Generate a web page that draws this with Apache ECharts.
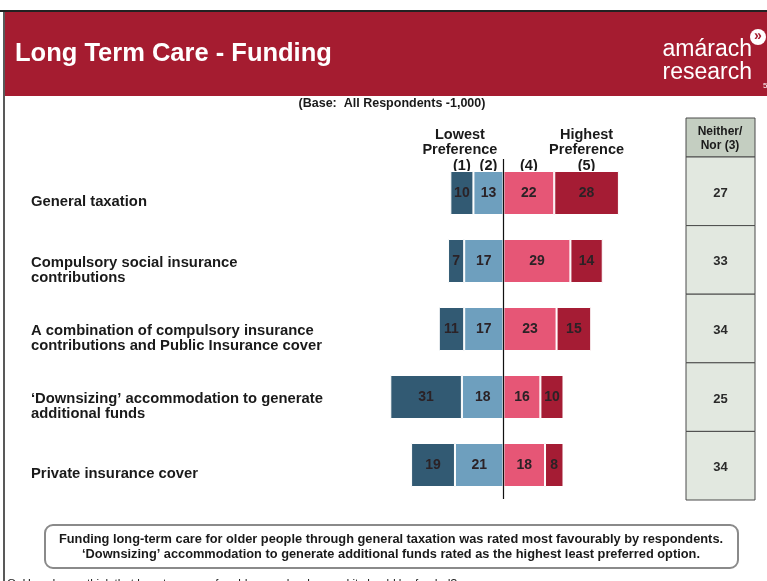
<!DOCTYPE html>
<html>
<head>
<meta charset="utf-8">
<script src="https://cdn.jsdelivr.net/npm/echarts@6/dist/echarts.min.js"></script>
<style>
  html, body { margin: 0; padding: 0; background: #fff; }
  #chart { width: 767px; height: 581px; }
</style>
</head>
<body>
<div id="chart"></div>
<script>
// rows, top to bottom
var categories = [
  'General taxation',
  'Compulsory social insurance\ncontributions',
  'A combination of compulsory insurance\ncontributions and Public Insurance cover',
  '\u2018Downsizing\u2019 accommodation to generate\nadditional funds',
  'Private insurance cover'
];
var lowest1 = [10, 7, 11, 31, 19];   // (1)
var low2 = [13, 17, 17, 18, 21];     // (2)
var neither3 = [27, 33, 34, 25, 34]; // (3)
var high4 = [22, 29, 23, 16, 18];    // (4)
var highest5 = [28, 14, 15, 10, 8];  // (5)
var scaleLabels = ['(1)', '(2)', '(4)', '(5)'];

var FONT = '"Liberation Sans", Arial, sans-serif';
var chart = echarts.init(document.getElementById('chart'));

var barLabel = {
  show: true,
  position: 'inside',
  color: '#2b2226',
  fontFamily: FONT,
  fontWeight: 'bold',
  fontSize: 14,
  formatter: function (p) { return Math.abs(p.value); }
};

function barSeries(name, data, color) {
  return {
    name: name,
    type: 'bar',
    stack: 'pref',
    barWidth: 44,
    data: data,
    itemStyle: { color: color, borderColor: '#ffffff', borderWidth: 1 },
    label: barLabel,
    emphasis: { disabled: true },
    xAxisIndex: 0,
    yAxisIndex: 0
  };
}

var option = {
  animation: false,
  grid: [
    { left: 388, top: 159, width: 254, height: 340 },
    { left: 686, top: 157, width: 69, height: 343 },
    // row labels sit a little lower than the bars
    { left: 388, top: 168, width: 254, height: 340 }
  ],
  xAxis: [
    { type: 'value', gridIndex: 0, min: -50, max: 60, show: false },
    { type: 'value', gridIndex: 1, min: 0, max: 1, show: false },
    { type: 'value', gridIndex: 2, min: 0, max: 1, show: false }
  ],
  yAxis: [
    { type: 'category', gridIndex: 0, data: categories, inverse: true, show: false },
    { type: 'category', gridIndex: 1, data: categories, inverse: true, show: false },
    {
      type: 'category', gridIndex: 2, data: categories, inverse: true,
      axisLine: { show: false }, axisTick: { show: false },
      axisLabel: {
        align: 'left', margin: 357,
        color: '#1a1a1a', fontFamily: FONT, fontWeight: 'bold', fontSize: 14.8,
        lineHeight: 15
      }
    }
  ],
  series: [
    barSeries('(2)', low2.map(function (v) { return -v; }), '#6e9fbe'),
    barSeries('(1)', lowest1.map(function (v) { return -v; }), '#325a73'),
    barSeries('(4)', high4, '#e65676'),
    barSeries('(5)', highest5, '#a51c34'),
    {
      type: 'line', data: [], xAxisIndex: 0, yAxisIndex: 0,
      markLine: {
        silent: true, symbol: 'none', label: { show: false },
        lineStyle: { color: '#111', width: 1.2, type: 'solid' },
        data: [{ xAxis: 0 }]
      }
    },
    {
      type: 'custom', xAxisIndex: 1, yAxisIndex: 1,
      data: neither3.map(function (v, i) { return [0, i, v]; }),
      encode: { x: 0, y: 1 },
      renderItem: function (params, api) {
        var p = api.coord([0, api.value(1)]);
        var h = api.size([0, 1])[1];
        var cs = params.coordSys;
        return {
          type: 'group',
          children: [
            { type: 'rect', shape: { x: cs.x, y: p[1] - h / 2, width: cs.width, height: h },
              style: { fill: '#e2e8e0', stroke: '#4a4a4a', lineWidth: 1 } },
            { type: 'text', style: { text: String(api.value(2)), x: cs.x + cs.width / 2, y: p[1] + 2,
              align: 'center', verticalAlign: 'middle', fill: '#2a2a2a',
              font: 'bold 13px ' + FONT } }
          ]
        };
      }
    }
  ]
};
chart.setOption(option);

// column headers sit over the segments of the first row
function segCenter(a, b) {
  return chart.convertToPixel({ gridIndex: 0 }, [(a + b) / 2, 0])[0];
}
var centers = [
  segCenter(-low2[0] - lowest1[0], -low2[0]),
  segCenter(-low2[0], 0),
  segCenter(0, high4[0]),
  segCenter(high4[0], high4[0] + highest5[0])
];
var hdrStyle = { fill: '#1a1a1a', font: 'bold 14.5px ' + FONT, align: 'center', verticalAlign: 'middle' };

var graphics = [
  { type: 'rect', shape: { x: 5, y: 12, width: 762, height: 84 }, style: { fill: '#a51c30' } },
  { type: 'line', shape: { x1: 0, y1: 11, x2: 767, y2: 11 }, style: { stroke: '#222', lineWidth: 2 } },
  { type: 'line', shape: { x1: 4, y1: 10, x2: 4, y2: 581 }, style: { stroke: '#222', lineWidth: 1.5 } },
  { type: 'text', style: { text: 'Long Term Care - Funding', x: 15, y: 54, verticalAlign: 'middle',
    fill: '#ffffff', font: 'bold 25.5px ' + FONT } },
  { type: 'text', style: { text: 'am\u00e1rach', x: 752, y: 50, align: 'right', verticalAlign: 'middle',
    fill: '#ffffff', font: '23px ' + FONT } },
  { type: 'text', style: { text: 'research', x: 752, y: 73, align: 'right', verticalAlign: 'middle',
    fill: '#ffffff', font: '23px ' + FONT } },
  { type: 'circle', shape: { cx: 758, cy: 37, r: 8 }, style: { fill: '#ffffff' } },
  { type: 'text', style: { text: '\u00bb', x: 758, y: 36, align: 'center', verticalAlign: 'middle',
    fill: '#a51c30', font: 'bold 14px ' + FONT } },
  { type: 'text', style: { text: '5', x: 763, y: 86, align: 'left', verticalAlign: 'middle',
    fill: '#ffffff', font: '8px ' + FONT } },
  { type: 'text', style: { text: '(Base:  All Respondents -1,000)', x: 392, y: 104, align: 'center',
    verticalAlign: 'middle', fill: '#1a1a1a', font: 'bold 12.5px ' + FONT } },
  { type: 'text', style: Object.assign({}, hdrStyle, { text: 'Lowest\nPreference', x: centers[0] - 2, y: 142, lineHeight: 15 }) },
  { type: 'text', style: Object.assign({}, hdrStyle, { text: 'Highest\nPreference', x: centers[3], y: 142, lineHeight: 15 }) },
  { type: 'rect', shape: { x: 686, y: 118, width: 69, height: 39 },
    style: { fill: '#c4cec1', stroke: '#4a4a4a', lineWidth: 1 } },
  { type: 'text', style: { text: 'Neither/\nNor (3)', x: 720, y: 139, align: 'center', verticalAlign: 'middle',
    fill: '#1a1a1a', font: 'bold 12px ' + FONT, lineHeight: 14 } },
  { type: 'rect', shape: { x: 45, y: 525, width: 693, height: 43, r: 8 },
    style: { fill: '#ffffff', stroke: '#8a8a8a', lineWidth: 2 } },
  { type: 'text', style: { text: 'Funding long-term care for older people through general taxation was rated most favourably by respondents.\n\u2018Downsizing\u2019 accommodation to generate additional funds rated as the highest least preferred option.',
    x: 391, y: 547, align: 'center', verticalAlign: 'middle', fill: '#1a1a1a',
    font: 'bold 12.8px ' + FONT, lineHeight: 15 } },
  { type: 'text', style: { text: 'Q. How do you think that long-term care for older people who need it should be funded?',
    x: 7, y: 584, verticalAlign: 'middle', fill: '#1a1a1a', font: '11.6px ' + FONT } }
];
scaleLabels.forEach(function (t, i) {
  graphics.push({ type: 'text', style: Object.assign({}, hdrStyle, { text: t, x: centers[i], y: 166 }) });
});
chart.setOption({ graphic: graphics });
</script>
</body>
</html>
